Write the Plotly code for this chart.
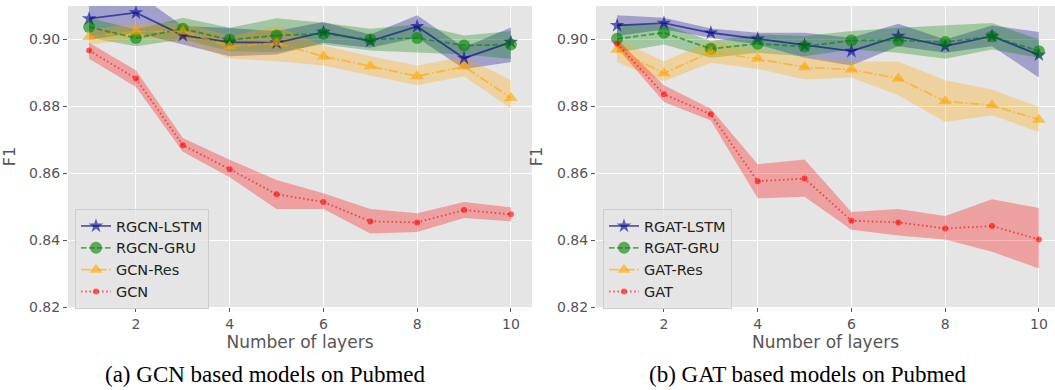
import plotly.graph_objects as go

layers = [1, 2, 3, 4, 5, 6, 7, 8, 9, 10]

# ---- (a) GCN based models on Pubmed ----
rgcn_lstm = [0.9062, 0.9080, 0.9012, 0.8992, 0.8990, 0.9022, 0.8995, 0.9039, 0.8944, 0.8992]
rgcn_lstm_lo = [0.9000, 0.9020, 0.8985, 0.8950, 0.8955, 0.8990, 0.8975, 0.9005, 0.8912, 0.8932]
rgcn_lstm_hi = [0.9125, 0.9140, 0.9040, 0.9034, 0.9025, 0.9052, 0.9015, 0.9072, 0.8976, 0.9036]

rgcn_gru = [0.9037, 0.9004, 0.9032, 0.8999, 0.9012, 0.9017, 0.9000, 0.9004, 0.8982, 0.8985]
rgcn_gru_lo = [0.9005, 0.8980, 0.9000, 0.8965, 0.8962, 0.8985, 0.8967, 0.8960, 0.8955, 0.8942]
rgcn_gru_hi = [0.9065, 0.9030, 0.9065, 0.9035, 0.9063, 0.9050, 0.9032, 0.9045, 0.9012, 0.9025]

gcn_res = [0.9007, 0.9024, 0.9024, 0.8979, 0.8990, 0.8949, 0.8920, 0.8890, 0.8919, 0.8825]
gcn_res_lo = [0.8985, 0.9000, 0.8995, 0.8943, 0.8935, 0.8922, 0.8892, 0.8863, 0.8890, 0.8794]
gcn_res_hi = [0.9030, 0.9048, 0.9050, 0.9010, 0.9040, 0.8982, 0.8950, 0.8922, 0.8948, 0.8878]

gcn = [0.8967, 0.8883, 0.8684, 0.8612, 0.8537, 0.8514, 0.8456, 0.8453, 0.8490, 0.8477]
gcn_lo = [0.8942, 0.8858, 0.8664, 0.8588, 0.8493, 0.8493, 0.8420, 0.8424, 0.8466, 0.8456]
gcn_hi = [0.8990, 0.8908, 0.8705, 0.8640, 0.8580, 0.8540, 0.8493, 0.8480, 0.8514, 0.8498]

# ---- (b) GAT based models on Pubmed ----
rgat_lstm = [0.9042, 0.9049, 0.9020, 0.9002, 0.8982, 0.8965, 0.9010, 0.8980, 0.9010, 0.8954]
rgat_lstm_lo = [0.9010, 0.9030, 0.9005, 0.8985, 0.8945, 0.8922, 0.8980, 0.8960, 0.8980, 0.8886]
rgat_lstm_hi = [0.9072, 0.9065, 0.9033, 0.9020, 0.9020, 0.9005, 0.9047, 0.9000, 0.9042, 0.9022]

rgat_gru = [0.9002, 0.9020, 0.8972, 0.8987, 0.8979, 0.8997, 0.8997, 0.8992, 0.9009, 0.8965]
rgat_gru_lo = [0.8960, 0.8985, 0.8945, 0.8960, 0.8950, 0.8970, 0.8960, 0.8942, 0.8970, 0.8945]
rgat_gru_hi = [0.9045, 0.9045, 0.8995, 0.9015, 0.9010, 0.9025, 0.9035, 0.9042, 0.9049, 0.9000]

gat_res = [0.8969, 0.8899, 0.8962, 0.8942, 0.8917, 0.8910, 0.8883, 0.8815, 0.8803, 0.8760]
gat_res_lo = [0.8932, 0.8875, 0.8930, 0.8912, 0.8880, 0.8886, 0.8833, 0.8753, 0.8773, 0.8723]
gat_res_hi = [0.9000, 0.8935, 0.8995, 0.8972, 0.8950, 0.8934, 0.8934, 0.8878, 0.8850, 0.8798]

gat = [0.8987, 0.8836, 0.8776, 0.8576, 0.8584, 0.8458, 0.8453, 0.8435, 0.8442, 0.8402]
gat_lo = [0.8975, 0.8813, 0.8758, 0.8525, 0.8530, 0.8431, 0.8414, 0.8402, 0.8365, 0.8315]
gat_hi = [0.9000, 0.8863, 0.8793, 0.8627, 0.8641, 0.8484, 0.8493, 0.8472, 0.8522, 0.8496]

y_ticks = [0.82, 0.84, 0.86, 0.88, 0.90]
x_ticks = [2, 4, 6, 8, 10]

W, H = 1055, 390
BG = "#E5E5E5"
TXT = "#555555"

styles = {
    "lstm": dict(rgb=(0, 0, 139), dash="solid", symbol="star", size=11),
    "gru": dict(rgb=(0, 128, 0), dash="5.5px,2.5px", symbol="circle", size=12),
    "res": dict(rgb=(255, 165, 0), dash="9.5px,2.5px,1.6px,2.5px", symbol="triangle-up", size=12),
    "base": dict(rgb=(255, 0, 0), dash="1.6px,2.6px", symbol="circle", size=6),
}


def rgba(rgb, a):
    return f"rgba({rgb[0]},{rgb[1]},{rgb[2]},{a})"


fig = go.Figure()

panels = [
    dict(xa="x", ya="y", legend="legend",
         series=[("RGCN-LSTM", "lstm", rgcn_lstm, rgcn_lstm_lo, rgcn_lstm_hi),
                 ("RGCN-GRU", "gru", rgcn_gru, rgcn_gru_lo, rgcn_gru_hi),
                 ("GCN-Res", "res", gcn_res, gcn_res_lo, gcn_res_hi),
                 ("GCN", "base", gcn, gcn_lo, gcn_hi)]),
    dict(xa="x2", ya="y2", legend="legend2",
         series=[("RGAT-LSTM", "lstm", rgat_lstm, rgat_lstm_lo, rgat_lstm_hi),
                 ("RGAT-GRU", "gru", rgat_gru, rgat_gru_lo, rgat_gru_hi),
                 ("GAT-Res", "res", gat_res, gat_res_lo, gat_res_hi),
                 ("GAT", "base", gat, gat_lo, gat_hi)]),
]

for p in panels:
    # bands first (below lines)
    for name, key, mean, lo, hi in p["series"]:
        st = styles[key]
        fig.add_trace(go.Scatter(x=layers, y=lo, mode="lines", line=dict(width=0),
                                 xaxis=p["xa"], yaxis=p["ya"], showlegend=False,
                                 hoverinfo="skip"))
        fig.add_trace(go.Scatter(x=layers, y=hi, mode="lines", line=dict(width=0),
                                 fill="tonexty", fillcolor=rgba(st["rgb"], 0.3),
                                 xaxis=p["xa"], yaxis=p["ya"], showlegend=False,
                                 hoverinfo="skip"))
    for i, (name, key, mean, lo, hi) in enumerate(p["series"]):
        st = styles[key]
        fig.add_trace(go.Scatter(
            x=layers, y=mean, mode="lines+markers", name=name,
            xaxis=p["xa"], yaxis=p["ya"], legend=p["legend"],
            line=dict(color=rgba(st["rgb"], 0.6), width=1.8, dash=st["dash"]),
            marker=dict(symbol=st["symbol"], size=st["size"], color=rgba(st["rgb"], 0.6),
                        line=dict(width=0)),
        ))

ydom = [83 / H, 384 / H]
axis_common = dict(showgrid=True, gridcolor="white", gridwidth=1.2, zeroline=False,
                   ticks="outside", ticklen=4, tickcolor=TXT, showline=False,
                   tickfont=dict(family="DejaVu Sans", size=14, color=TXT),
                   automargin=False)

legend_common = dict(xanchor="left", yanchor="top", traceorder="normal",
                     bgcolor="rgba(229,229,229,0.8)", bordercolor="#CCCCCC", borderwidth=1,
                     font=dict(family="DejaVu Sans", size=14.5, color="#222222"),
                     tracegroupgap=0, itemwidth=30)

fig.update_layout(
    width=W, height=H, margin=dict(l=0, r=0, t=0, b=0),
    paper_bgcolor="white", plot_bgcolor=BG,
    font=dict(family="DejaVu Sans", color=TXT),
    xaxis=dict(domain=[68 / W, 532 / W], range=[0.55, 10.45], tickvals=x_ticks,
               title=dict(text="Number of layers", standoff=5,
                          font=dict(size=17, color=TXT)), anchor="y", **axis_common),
    yaxis=dict(domain=ydom, range=[0.82, 0.91], tickvals=y_ticks, tickformat=".2f",
               title=dict(text="F1", standoff=10, font=dict(size=16, color=TXT)),
               anchor="x", **axis_common),
    xaxis2=dict(domain=[596 / W, 1.0], range=[0.55, 0.55 + 459 / 46.87], tickvals=x_ticks,
                title=dict(text="Number of layers", standoff=5,
                           font=dict(size=17, color=TXT)), anchor="y2", **axis_common),
    yaxis2=dict(domain=ydom, range=[0.82, 0.91], tickvals=y_ticks, tickformat=".2f",
                title=dict(text="F1", standoff=10, font=dict(size=16, color=TXT)),
                anchor="x2", **axis_common),
    legend=dict(x=75 / W, y=(H - 209) / H, **legend_common),
    legend2=dict(x=603 / W, y=(H - 209) / H, **legend_common),
    annotations=[
        dict(text="(a) GCN based models on Pubmed", x=265 / W, y=(H - 374) / H,
             xref="paper", yref="paper", showarrow=False, xanchor="center", yanchor="middle",
             font=dict(family="Liberation Serif", size=23, color="black")),
        dict(text="(b) GAT based models on Pubmed", x=808 / W, y=(H - 374) / H,
             xref="paper", yref="paper", showarrow=False, xanchor="center", yanchor="middle",
             font=dict(family="Liberation Serif", size=23, color="black")),
    ],
)

fig.write_html("out.html")
